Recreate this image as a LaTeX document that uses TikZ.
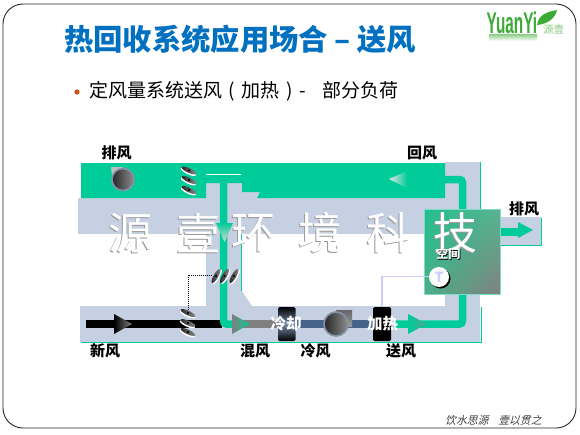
\documentclass[tikz,border=0pt]{standalone}
\usepackage{fontspec}
\setmainfont{Noto Sans CJK SC}
\newfontfamily\slantfont[FakeSlant=0.25]{Noto Sans CJK SC}
\newfontfamily\logofont{Liberation Sans}
\usetikzlibrary{shadings}
\definecolor{duct}{HTML}{C5D0E2}
\definecolor{grn}{HTML}{00CC99}
\definecolor{ttl}{HTML}{0070C0}
\definecolor{slate}{HTML}{46648A}
\definecolor{lav}{HTML}{CCCCFF}
\definecolor{logog}{HTML}{3DAA35}
\definecolor{ring}{HTML}{8492AA}
\tikzset{
 lbl/.style={font=\fontsize{15}{16}\selectfont\bfseries,text=black,inner sep=0},
 wlbl/.style={font=\fontsize{15.5}{16}\selectfont\bfseries,text=white,inner sep=0},
 wmw/.style={font=\fontsize{44}{46}\selectfont,text=white,inner sep=0},
 wmg/.style={font=\fontsize{44}{46}\selectfont,text=black!40,inner sep=0},
 airline/.style={line width=7.5pt,rounded corners=3pt},
}
\newcommand{\damper}[3]{\begin{scope}[rotate around={#3:(#1,#2)}]\fill[white] (#1,#2+1.5) ellipse (8.2 and 2.4);\shade[left color=black!85,right color=black!45] (#1,#2) ellipse (8 and 2.3);\fill[black] (#1,#2) circle (1.2);\end{scope}}
\newcommand{\fanwheel}[3]{\shade[left color=black!85,right color=black!45] (#1,#2) circle (#3);\draw[color=ring,line width=1.6pt] (#1,#2) circle (#3);}
\newcommand{\wmchar}[3]{\node[wmg] (#3g) at (#1-.7,233.7) {#2};\node[wmw] (#3) at (#1,233) {#2};}
\begin{document}
\begin{tikzpicture}[x=1pt,y=-1pt]
\useasboundingbox (0,0) rectangle (580,434);
\fill[white] (0,0) rectangle (580,434);
\draw[black!85,line width=.9pt,rounded corners=20pt] (3,4) rectangle (576,428);
% title and bullet
\node[anchor=west,inner sep=0,text=ttl,font=\fontsize{29.3}{30}\selectfont\bfseries] (title) at (64,39) {热回收系统应用场合 – 送风};
\fill[color={rgb,255:red,208;green,80;blue,20}] (77,92) circle (2.6);
\node[anchor=west,inner sep=0,font=\fontsize{19}{20}\selectfont] (bullet) at (89.5,91.5) {定风量系统送风\hspace{6pt}(\hspace{6.5pt}加热\hspace{6.5pt})\hspace{6.5pt}-\hspace{17pt}部分负荷};
% logo
\node[anchor=south west,inner sep=0,text=logog,font=\logofont\bfseries\fontsize{30}{30}\selectfont] (logo) at (486.5,34) {\scalebox{.51}[1]{YuanYi}};
\fill[logog] (537,25) .. controls (539,14) and (547,12) .. (557,10) .. controls (555,19) and (547,24) .. (537,25) -- cycle;
\node[anchor=west,inner sep=0,text=logog!60,font=\fontsize{10.5}{11}\selectfont] (logocn) at (543,30) {源壹};
\shade[top color=logog!60,bottom color=white] (489,34) rectangle (537,41);
% footer
\node[anchor=west,inner sep=0,text=black!75,font=\slantfont\fontsize{10.8}{12}\selectfont] (foot) at (445,420) {饮水思源\hspace{10pt}壹以贯之};
% ducts (light)
\fill[duct] (445,162) rectangle (480,209);
\fill[duct] (78,198) rectangle (445,234);
\fill[duct] (206,183) -- (242,183) -- (242,192) -- (260,192) -- (257,198) -- (206,198) -- cycle;
\fill[duct] (206,234) -- (242,234) -- (242,291) -- (252,306) -- (480,306) -- (480,342) -- (80,342) -- (80,306) -- (206,306) -- cycle;
\fill[duct] (445,294) rectangle (480,306);
\fill[duct] (500,217) rectangle (541,245);
% green return plenum
\fill[grn] (81,163) -- (445,163) -- (445,198) -- (257,198) -- (260,192) -- (242,192) -- (242,183) -- (206,183) -- (206,198) -- (81,198) -- cycle;
\draw[white,line width=.8pt] (206,174) -- (241,174);
% thin green edges
\draw[grn,line width=.9pt] (480.5,162) -- (480.5,209);
\draw[grn,line width=.9pt] (241.8,234) -- (241.8,291);
\draw[grn,line width=1.1pt] (81,342.5) -- (481.5,342.5) -- (481.5,307);
\draw[grn,line width=.9pt] (500,245.5) -- (541.3,245.5) -- (541.3,218);
% air lines
\draw[black,line width=8pt] (86,324) -- (222,324);
\draw[black!50,line width=8pt] (240,324) -- (278,324);
\draw[slate,line width=8pt] (295,324) -- (373,324);
\draw[grn,airline] (223.5,183) -- (223.5,324) -- (236,324);
\draw[grn,airline] (462.5,294) -- (462.5,324) -- (395,324);
\draw[grn,airline] (462.5,209) -- (462.5,179.5) -- (440,179.5);
\fill[grn] (500,228) rectangle (520,235.5);
\fill[grn] (518,222) -- (533,230) -- (518,238) -- cycle;
% flow arrows
\shade[left color=black,right color=black!50] (114,314) -- (132,324) -- (114,334) -- cycle;
\shade[left color=black!50,right color=grn] (232,314) -- (250,324) -- (232,334) -- cycle;
\shade[left color=grn,right color=black!35!grn!70!white] (408,314) -- (427,324) -- (408,334) -- cycle;
\shade[top color=grn,bottom color=black!15!white] (216,223) -- (233,223) -- (224.5,242) -- cycle;
\shade[left color=black!10!white,right color=grn] (389,179) -- (407,171) -- (407,188) -- cycle;
% fans
\fill[black!25] (111,167) -- (123,167) -- (123,179) -- (113,183) -- cycle;
\fanwheel{123}{179.5}{11}
\shade[top color=black!60,bottom color=black!40] (336,310) -- (352,310) -- (352,326) -- (336,326) -- cycle;
\fanwheel{336}{324}{12}
% coil and heater
\shade[rounded corners=1.5pt,top color=black,bottom color=black,middle color=slate!75!white] (278,307) rectangle (295.5,341);
\fill[black,rounded corners=1.5pt] (373,307) rectangle (391,341);
% dampers
\damper{189}{170.5}{-25}\damper{189}{180}{-25}\damper{189}{190}{-25}
\damper{188}{313}{-25}\damper{188}{323}{-25}\damper{188}{332}{-25}
\damper{216}{276}{60}\damper{224.5}{276}{60}\damper{234}{276}{60}
\draw[black,line width=1pt,densely dotted] (212,275) -- (188,275) -- (188,310);
% room
\shade[lower left={rgb,255:red,74;green,176;blue,136},upper left={rgb,255:red,32;green,192;blue,144},upper right={rgb,255:red,88;green,180;blue,144},lower right={rgb,255:red,128;green,128;blue,128}] (424,209) rectangle (500,294);
\draw[black!10!grn!50!white,line width=.6pt] (424,209) rectangle (500,294);
% sensor
\draw[lav,line width=1.3pt] (382,306) -- (382,276.5) -- (430,276.5);
\fill[black] (440.5,278.5) circle (10);
\node[circle,fill=white,minimum size=20pt,inner sep=0,text=lav,font=\fontsize{14}{15}\selectfont\bfseries] (sensor) at (439,277) {T};
% watermark
\wmchar{130}{源}{wa}
\wmchar{198}{壹}{wb}
\wmchar{253}{环}{wc}
\wmchar{320}{境}{wd}
\wmchar{388}{科}{we}
\wmchar{455}{技}{wf}
% labels
\node[lbl] (l1) at (116.5,153) {排风};
\node[lbl] (l2) at (422,153) {回风};
\node[lbl] (l3) at (524,209) {排风};
\node[lbl] (l4) at (105,351) {新风};
\node[lbl] (l5) at (255,351) {混风};
\node[lbl] (l6) at (315.5,351) {冷风};
\node[lbl] (l7) at (401,351) {送风};
\node[wlbl] (l8) at (286,324) {冷却};
\node[wlbl] (l9) at (382.5,324) {加热};
\node[lbl,text=black,font=\fontsize{12}{13}\selectfont\bfseries] (l10s) at (449,254.7) {空间};
\node[lbl,text=white,font=\fontsize{12}{13}\selectfont\bfseries] (l10) at (448.3,254) {空间};
\end{tikzpicture}
\end{document}
